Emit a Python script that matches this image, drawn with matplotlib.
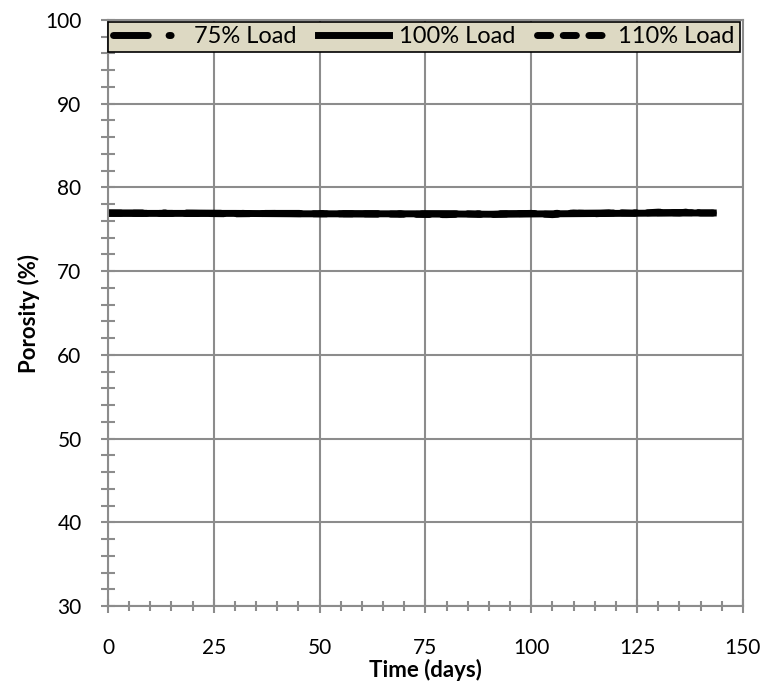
import matplotlib.pyplot as plt
from matplotlib.ticker import MultipleLocator

plt.rcParams["font.family"] = ["Lato", "DejaVu Sans"]

# porosity readings per load case
DAYS_75 = [0, 15, 30, 45, 60, 75, 90, 105, 120, 135, 143]
POROSITY_75 = [76.95, 76.95, 76.9, 76.9, 76.85, 76.85, 76.85, 76.9, 76.95, 77.0, 76.95]

DAYS_100 = [0, 15, 30, 45, 60, 75, 90, 105, 120, 135, 143]
POROSITY_100 = [76.9, 76.9, 76.9, 76.85, 76.85, 76.85, 76.8, 76.85, 76.9, 76.95, 76.95]

DAYS_110 = [0, 10, 20, 30, 40, 50, 60, 70, 80, 85, 90, 95, 100, 105, 110,
            115, 120, 125, 130, 135, 138, 140, 143]
POROSITY_110 = [76.95, 76.9, 76.9, 76.85, 76.9, 76.85, 76.85, 76.8, 76.75, 76.85,
                76.75, 76.85, 76.9, 76.75, 76.95, 76.85, 77.0, 76.9, 77.05, 76.95,
                77.15, 76.95, 76.95]

fig = plt.figure(figsize=(7.69, 6.83), dpi=100)
ax = fig.add_axes([0.1404, 0.1127, 0.8256, 0.858])

ax.plot(DAYS_75, POROSITY_75, color="black", lw=5,
        dashes=(5.0, 3.0, 0.3, 3.0), dash_capstyle="round", label="75% Load")
ax.plot(DAYS_100, POROSITY_100, color="black", lw=5, label="100% Load")
ax.plot(DAYS_110, POROSITY_110, color="black", lw=5,
        dashes=(1.9, 1.8), dash_capstyle="round", label="110% Load")

ax.set_xlim(0, 150)
ax.set_ylim(30, 100)
ax.xaxis.set_major_locator(MultipleLocator(25))
ax.xaxis.set_minor_locator(MultipleLocator(5))
ax.yaxis.set_major_locator(MultipleLocator(10))
ax.yaxis.set_minor_locator(MultipleLocator(2))

grid_col = "#8c8c8c"
ax.grid(True, which="major", color=grid_col, lw=1.5)
ax.set_axisbelow(True)
for side in ax.spines.values():
    side.set_color(grid_col)
    side.set_linewidth(1.5)

ax.tick_params(axis="both", which="both", color=grid_col, width=1.5,
               labelsize=15, direction="inout")
ax.tick_params(axis="y", which="major", length=10, pad=14)
ax.tick_params(axis="y", which="minor", length=10)
ax.tick_params(axis="x", which="major", length=10, pad=18)
ax.tick_params(axis="x", which="minor", length=7)

ax.set_xlabel("Time (days)", fontsize=16, fontweight="bold", labelpad=1)
ax.set_ylabel("Porosity (%)", fontsize=16, fontweight="bold", labelpad=4)

leg = ax.legend(loc="upper left", bbox_to_anchor=(0.0, 0.997), ncol=3,
                fontsize=17, frameon=True, fancybox=False, borderaxespad=0.0,
                handlelength=3.0, handletextpad=0.45, borderpad=0.2,
                columnspacing=0.9)
frame = leg.get_frame()
frame.set_facecolor("#ddd9c3")
frame.set_edgecolor("black")
frame.set_linewidth(1.2)
frame.set_alpha(1.0)

fig.savefig("out.png", dpi=100)
